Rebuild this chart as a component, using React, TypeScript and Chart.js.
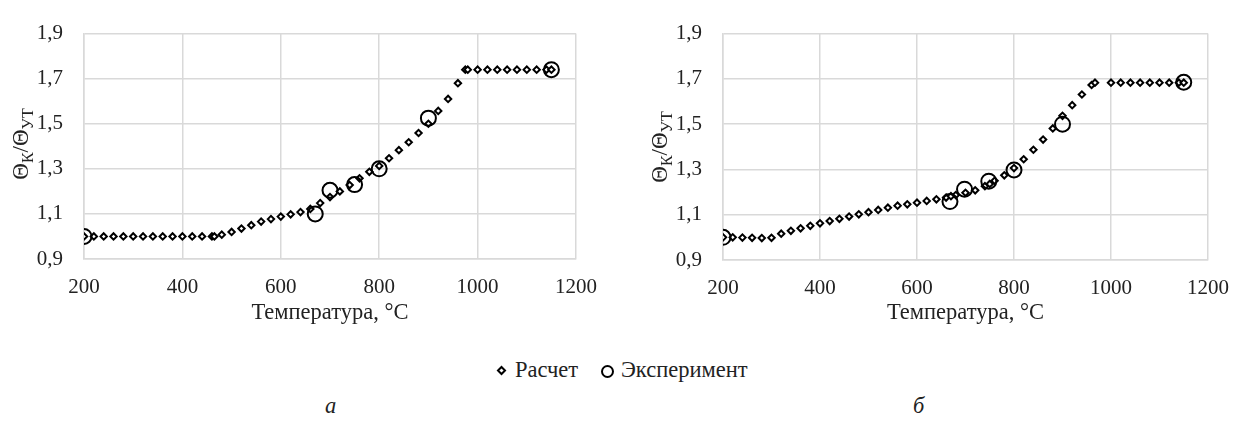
import React, { useEffect, useRef } from 'react';
import { Chart, registerables } from 'chart.js';

Chart.register(...registerables);

// ---- axis ticks ----
const xTickValues = [200, 400, 600, 800, 1000, 1200];
const yTickValues = [0.9, 1.1, 1.3, 1.5, 1.7, 1.9];
const yTickLabels = ['0,9', '1,1', '1,3', '1,5', '1,7', '1,9'];

const xTitle = 'Температура, °С';
const yTitleParts: [string, boolean][] = [['Θ', false], ['К', true], ['/Θ', false], ['УТ', true]];
const seriesNames = ['Расчет', 'Эксперимент'];
const panelLabels = ['а', 'б'];

// ---- panel a ----
const calcTempA = [200, 220, 240, 260, 280, 300, 320, 340, 360, 380, 400, 420, 440, 460, 465, 480, 500, 520, 540, 560, 580, 600, 620, 640, 660, 680, 700, 720, 740, 760, 780, 800, 820, 840, 860, 880, 900, 920, 940, 960, 975, 980, 1000, 1020, 1040, 1060, 1080, 1100, 1120, 1140, 1150];
const calcValA = [1.0, 1.0, 1.0, 1.0, 1.0, 1.0, 1.0, 1.0, 1.0, 1.0, 1.0, 1.0, 1.0, 1.0, 1.0, 1.008, 1.02, 1.035, 1.05, 1.066, 1.077, 1.088, 1.098, 1.108, 1.122, 1.148, 1.175, 1.2, 1.228, 1.258, 1.287, 1.313, 1.347, 1.383, 1.418, 1.459, 1.5, 1.557, 1.61, 1.68, 1.74, 1.74, 1.74, 1.74, 1.74, 1.74, 1.74, 1.74, 1.74, 1.74, 1.74];
const expTempA = [200, 670, 700, 750, 800, 900, 1150];
const expValA = [1.0, 1.1, 1.205, 1.23, 1.3, 1.525, 1.74];

// ---- panel b ----
const calcTempB = [200, 220, 240, 260, 280, 300, 320, 340, 360, 380, 400, 420, 440, 460, 480, 500, 520, 540, 560, 580, 600, 620, 640, 660, 670, 680, 700, 720, 740, 750, 760, 780, 800, 820, 840, 860, 880, 900, 920, 940, 960, 967, 1000, 1020, 1040, 1060, 1080, 1100, 1120, 1140, 1150];
const calcValB = [1.0, 1.0, 0.999, 0.998, 0.997, 0.998, 1.016, 1.029, 1.04, 1.051, 1.062, 1.072, 1.082, 1.092, 1.102, 1.111, 1.121, 1.131, 1.14, 1.146, 1.153, 1.161, 1.168, 1.176, 1.182, 1.187, 1.197, 1.208, 1.226, 1.236, 1.25, 1.274, 1.306, 1.345, 1.387, 1.432, 1.481, 1.537, 1.584, 1.631, 1.673, 1.683, 1.683, 1.683, 1.683, 1.683, 1.683, 1.683, 1.683, 1.683, 1.683];
const expTempB = [200, 668, 698, 748, 800, 900, 1150];
const expValB = [1.0, 1.158, 1.213, 1.248, 1.298, 1.5, 1.685];

const FONT = "'Liberation Serif', 'Times New Roman', serif";
const TEXT = '#222';
const GRID = '#d9d9d9';

function yTitlePlugin(baseX: number, centerY: number) {
  return {
    id: 'yTitleCustom',
    afterDraw(chart: any) {
      const ctx = chart.ctx as CanvasRenderingContext2D;
      const big = `23px ${FONT}`;
      const small = `16px ${FONT}`;
      ctx.save();
      let total = 0;
      const widths: number[] = [];
      for (const [t, sub] of yTitleParts) {
        ctx.font = sub ? small : big;
        const w = ctx.measureText(t).width;
        widths.push(w);
        total += w;
      }
      ctx.translate(baseX, centerY);
      ctx.rotate(-Math.PI / 2);
      ctx.fillStyle = TEXT;
      ctx.textBaseline = 'alphabetic';
      ctx.textAlign = 'left';
      let x = -total / 2;
      yTitleParts.forEach(([t, sub], i) => {
        ctx.font = sub ? small : big;
        ctx.fillText(t, x, sub ? 5 : 0);
        x += widths[i];
      });
      ctx.restore();
    },
  };
}

function makeConfig(
  calcT: number[], calcV: number[], expT: number[], expV: number[],
  g: { padRight: number; padTop: number; yWidth: number; xHeight: number; titleX: number; titleY: number }
): any {
  return {
    type: 'scatter',
    data: {
      datasets: [
        {
          label: seriesNames[0],
          data: calcT.map((t, i) => ({ x: t, y: calcV[i] })),
          pointStyle: 'rectRot',
          pointRadius: 3.2,
          pointBorderWidth: 2,
          borderColor: '#000',
          backgroundColor: '#fff',
          showLine: false,
          order: 1,
        },
        {
          label: seriesNames[1],
          data: expT.map((t, i) => ({ x: t, y: expV[i] })),
          pointStyle: 'circle',
          pointRadius: 7.5,
          pointBorderWidth: 2,
          borderColor: '#000',
          backgroundColor: 'rgba(0,0,0,0)',
          showLine: false,
          order: 0,
        },
      ],
    },
    options: {
      responsive: false,
      animation: false,
      layout: { padding: { left: 0, right: g.padRight, top: g.padTop, bottom: 0 } },
      plugins: { legend: { display: false }, tooltip: { enabled: false }, title: { display: false } },
      scales: {
        x: {
          type: 'linear',
          min: 200,
          max: 1200,
          afterBuildTicks: (s: any) => { s.ticks = xTickValues.map((v) => ({ value: v })); },
          afterFit: (s: any) => { s.height = g.xHeight; },
          grid: { color: GRID, lineWidth: 1.5, drawTicks: false },
          border: { color: GRID, width: 1.5 },
          ticks: { color: TEXT, font: { family: FONT, size: 21 }, padding: 16, maxRotation: 0, callback: (v: number) => String(v) },
          title: { display: true, text: xTitle, color: TEXT, font: { family: FONT, size: 22.5 }, padding: { top: 0, bottom: 8 } },
        },
        y: {
          type: 'linear',
          min: 0.9,
          max: 1.9,
          afterBuildTicks: (s: any) => { s.ticks = yTickValues.map((v) => ({ value: v })); },
          afterFit: (s: any) => { s.width = g.yWidth; },
          grid: { color: GRID, lineWidth: 1.5, drawTicks: false },
          border: { color: GRID, width: 1.5 },
          ticks: {
            color: TEXT,
            font: { family: FONT, size: 21 },
            padding: 21,
            callback: (v: number) => {
              const i = yTickValues.findIndex((t) => Math.abs(t - v) < 1e-6);
              return i >= 0 ? yTickLabels[i] : '';
            },
          },
        },
      },
    },
    plugins: [yTitlePlugin(g.titleX, g.titleY)],
  };
}

export default function App() {
  const refA = useRef<HTMLCanvasElement | null>(null);
  const refB = useRef<HTMLCanvasElement | null>(null);

  useEffect(() => {
    const a = new Chart(refA.current as HTMLCanvasElement, makeConfig(calcTempA, calcValA, expTempA, expValA,
      { padRight: 44, padTop: 21, yWidth: 84, xHeight: 76, titleX: 28, titleY: 144 }));
    const b = new Chart(refB.current as HTMLCanvasElement, makeConfig(calcTempB, calcValB, expTempB, expValB,
      { padRight: 32, padTop: 22, yWidth: 103, xHeight: 75, titleX: 47, titleY: 147 }));
    return () => { a.destroy(); b.destroy(); };
  }, []);

  const textStyle: React.CSSProperties = { position: 'absolute', fontFamily: FONT, fontSize: 22.5, color: TEXT, lineHeight: '26px', whiteSpace: 'nowrap' };

  return (
    <div style={{ position: 'absolute', left: 0, top: 0, width: 1245, height: 425, background: '#fff', overflow: 'hidden' }}>
      <canvas ref={refA} width={620} height={335} style={{ position: 'absolute', left: 0, top: 0, width: 620, height: 335 }} />
      <canvas ref={refB} width={625} height={335} style={{ position: 'absolute', left: 620, top: 0, width: 625, height: 335 }} />
      {/* legend */}
      <div style={{ position: 'absolute', left: 498, top: 367, width: 7, height: 7, border: '2px solid #000', background: '#fff', transform: 'rotate(45deg)', boxSizing: 'border-box' }} />
      <div style={{ ...textStyle, left: 515, top: 357 }}>{seriesNames[0]}</div>
      <div style={{ position: 'absolute', left: 601, top: 365, width: 13, height: 13, border: '2.5px solid #000', borderRadius: '50%', boxSizing: 'border-box' }} />
      <div style={{ ...textStyle, left: 621, top: 357 }}>{seriesNames[1]}</div>
      {/* panel labels */}
      <div style={{ ...textStyle, left: 325, top: 393, fontStyle: 'italic' }}>{panelLabels[0]}</div>
      <div style={{ ...textStyle, left: 913, top: 393, fontStyle: 'italic' }}>{panelLabels[1]}</div>
    </div>
  );
}
